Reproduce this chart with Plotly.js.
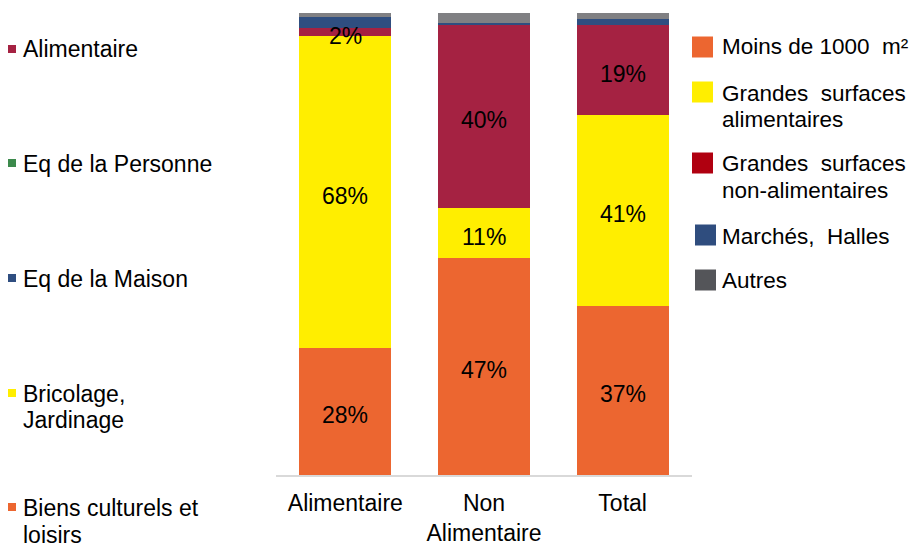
<!DOCTYPE html>
<html>
<head>
<meta charset="utf-8">
<script src="https://cdn.plot.ly/plotly-3.0.1.min.js"></script>
<style>html,body{margin:0;padding:0;background:#fff;}#chart{width:916px;height:548px;}</style>
</head>
<body>
<div id="chart"></div>
<script>
// ---- data ----
var categories = ['Alimentaire', 'Non<br>Alimentaire', 'Total'];
var seriesNames = ['Moins de 1000 m²', 'Grandes surfaces alimentaires', 'Grandes surfaces non-alimentaires', 'Marchés, Halles', 'Autres'];
var moins1000 = [27.5, 47.0, 36.6];
var grandesAlim = [67.6, 10.8, 41.4];
var grandesNonAlim = [1.7, 39.6, 19.3];
var marchesHalles = [2.4, 0.4, 1.4];
var autres = [0.8, 2.2, 1.3];
var labelled = [true, true, true, false, false];
var leftLegendLabels = ['Alimentaire', 'Eq de la Personne', 'Eq de la Maison', 'Bricolage,<br>Jardinage', 'Biens culturels et<br>loisirs'];
var rightLegendLabels = ['Moins de 1000\u00A0 m²', 'Grandes\u00A0 surfaces<br>alimentaires', 'Grandes\u00A0 surfaces<br>non-alimentaires', 'Marchés,\u00A0 Halles', 'Autres'];

// ---- styles ----
var barColors = ['#EC6630', '#FFEE00', '#A52242', '#2F4E80', '#808083'];
var rightLegendColors = ['#EC6630', '#FFEE00', '#B00010', '#2F4D7E', '#545559'];
var leftLegendColors = ['#A52242', '#3C8A4C', '#2F4E80', '#FFEE00', '#EC6630'];
var FONT = 'Liberation Sans, Arial, sans-serif';

var values = [moins1000, grandesAlim, grandesNonAlim, marchesHalles, autres];

var traces = values.map(function (vals, i) {
  return {
    type: 'bar',
    name: seriesNames[i],
    x: categories,
    y: vals,
    marker: {color: barColors[i], line: {width: 0}},
    hoverinfo: 'skip'
  };
});

var shapes = [], annotations = [];

// data labels centred in each labelled segment, drawn above all bars
var base = categories.map(function () { return 0; });
values.forEach(function (vals, i) {
  vals.forEach(function (v, k) {
    if (labelled[i]) {
      annotations.push({xref: 'x', yref: 'y', x: categories[k], y: base[k] + v / 2,
        text: Math.round(v) + '%', showarrow: false, yshift: -4,
        xanchor: 'center', yanchor: 'middle',
        font: {family: FONT, size: 23, color: '#000'}});
    }
    base[k] += v;
  });
});

// plot area in pixels
var L = 276, R = 692, T = 13, B = 475;
function px(x) { return (x - L) / (R - L); }
function py(y) { return (B - y) / (B - T); }

function addText(x, y, txt, size) {
  annotations.push({xref: 'paper', yref: 'paper', x: px(x), y: py(y), xanchor: 'left', yanchor: 'middle',
    text: txt, showarrow: false, align: 'left', font: {family: FONT, size: size, color: '#000'}});
}
function addSquare(x0, y0, x1, y1, c) {
  shapes.push({type: 'rect', xref: 'paper', yref: 'paper', x0: px(x0), x1: px(x1), y0: py(y1), y1: py(y0),
    fillcolor: c, line: {width: 0}});
}

// left legend
var leftY = [[49], [164], [279], [393.5, 419.5], [508.5, 534.5]];
var leftSqY = [49, 163, 278, 393, 507];
leftLegendLabels.forEach(function (lab, i) {
  var lines = lab.split('<br>');
  addSquare(8, leftSqY[i] - 4, 16, leftSqY[i] + 4, leftLegendColors[i]);
  lines.forEach(function (ln, j) { addText(21, leftY[i][j], ln, 23); });
});

// right legend
var rightY = [[47], [93, 119.5], [163.5, 190.5], [236], [280]];
var sqX = [692, 692, 692, 695, 695];
var sqY = [47, 92, 163, 235, 280];
rightLegendLabels.forEach(function (lab, i) {
  var lines = lab.split('<br>');
  addSquare(sqX[i], sqY[i] - 10.5, sqX[i] + 21, sqY[i] + 10.5, rightLegendColors[i]);
  lines.forEach(function (ln, j) { addText(720, rightY[i][j], ln, 22.5); });
});

var layout = {
  width: 916, height: 548,
  margin: {l: L, r: 916 - R, t: T, b: 548 - B, pad: 0},
  paper_bgcolor: '#fff', plot_bgcolor: '#fff',
  barmode: 'stack',
  bargap: 0.336,
  showlegend: false,
  xaxis: {
    type: 'category',
    showline: true, linecolor: '#D9D9D9', linewidth: 2,
    ticks: '', showgrid: false, zeroline: false,
    ticklabelstandoff: 6,
    tickfont: {family: FONT, size: 23, color: '#000'},
    automargin: false
  },
  yaxis: {
    range: [0, 100], visible: false, showgrid: false, zeroline: false, fixedrange: true
  },
  shapes: shapes,
  annotations: annotations
};

Plotly.newPlot('chart', traces, layout, {staticPlot: true, displayModeBar: false});
</script>
</body>
</html>
